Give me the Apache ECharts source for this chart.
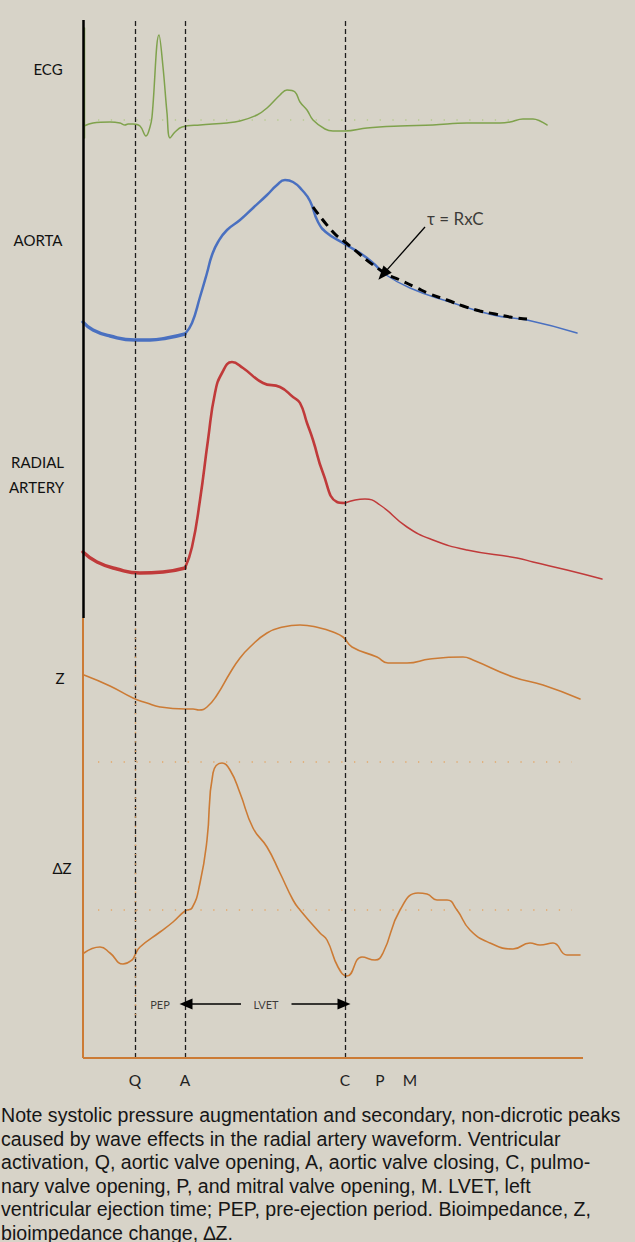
<!DOCTYPE html>
<html>
<head>
<meta charset="utf-8">
<script src="https://cdn.jsdelivr.net/npm/echarts@6/dist/echarts.min.js"></script>
<style>
  html, body { margin: 0; padding: 0; background: #d7d3c8; }
  #chart { position: absolute; left: 0; top: 0; width: 635px; height: 1100px; }
  #note {
    position: absolute; left: 1px; top: 1104px; width: 634px;
    font-family: "Liberation Sans", Arial, sans-serif; font-size: 19.6px;
    line-height: 23.5px; color: #161616; white-space: nowrap;
  }
</style>
</head>
<body>
<div id="chart"></div>
<div id="note">Note systolic pressure augmentation and secondary, non-dicrotic peaks<br>caused by wave effects in the radial artery waveform. Ventricular<br>activation, Q, aortic valve opening, A, aortic valve closing, C, pulmo-<br>nary valve opening, P, and mitral valve opening, M. LVET, left<br>ventricular ejection time; PEP, pre-ejection period. Bioimpedance, Z,<br>bioimpedance change, &#8710;Z.</div>
<script>
// ---- time axis (ms from start of the cycle) ----
const eventTimes  = [104, 204, 524, 594, 654];
const eventLabels = ['Q', 'A', 'C', 'P', 'M'];
const dashedEvents = [104, 204, 524];           // Q, A, C marker lines

// ---- ECG (mV) ----
const ecgCalibration = [[3, 1.314], [3, -0.257]];
const ecgMv = [
  [2, -0.086], [20, -0.043], [54, -0.029], [74, -0.043], [84, -0.071], [90, -0.057],
  [100, -0.057], [114, -0.086], [126, -0.229], [134, -0.1], [138, 0.043], [152, 1.214],
  [160, 0.757], [168, 0.1], [174, -0.257], [184, -0.171], [198, -0.1], [234, -0.071],
  [288, -0.043], [314, -0.014], [348, 0.071], [368, 0.171], [394, 0.357], [408, 0.429],
  [424, 0.4], [434, 0.257], [448, 0.143], [460, 0], [484, -0.129], [500, -0.157],
  [524, -0.157], [568, -0.114], [634, -0.086], [700, -0.071], [768, -0.043], [834, -0.043],
  [854, -0.029], [880, 0.014], [900, 0.014], [914, -0.014], [928, -0.071]
];
const ecgBaseline = [[30, 0], [858, 0]];

// ---- Aortic pressure (mmHg) ----
const aortaMmHg = [
  [0, 84.5], [20, 82.5], [54, 81], [104, 80], [134, 80], [168, 80.5], [204, 81.5],
  [218, 84.25], [234, 90.75], [248, 96.75], [258, 101.25], [270, 104.5], [288, 107.5],
  [314, 110], [340, 113], [368, 116.25], [388, 118.75], [404, 120], [420, 119.5],
  [438, 117.5], [454, 114.75], [470, 109.5], [488, 106.75], [520, 104.25], [568, 100.5],
  [600, 96.75], [654, 93], [734, 89.5], [820, 86.25], [888, 85], [988, 81.75]
];
// exponential run-off fit (tau = R x C)
const aortaDecayFit = [
  [460, 113.25], [500, 107], [524, 104.5], [600, 97], [634, 95], [664, 93.25],
  [694, 91.5], [728, 90], [760, 88.5], [794, 87.25], [824, 86.5], [854, 85.75], [888, 85.25]
];

// ---- Radial artery pressure (mmHg) ----
const radialMmHg = [
  [0, 85.25], [28, 82.75], [68, 81], [114, 80], [160, 80.25], [204, 81.25],
  [218, 86.5], [234, 98.25], [250, 113.25], [264, 125], [278, 130], [298, 132.75],
  [320, 131.25], [360, 127.5], [394, 126.5], [420, 124], [434, 122.5], [448, 117.5],
  [460, 113.25], [480, 105], [508, 97.75], [524, 97.5], [564, 98.5], [594, 97],
  [648, 91.5], [700, 88.25], [768, 85.75], [868, 83.75], [900, 82.75], [968, 80.75], [1038, 78.5]
];

// ---- Bioimpedance Z and its change dZ (arbitrary units) ----
const zImpedance = [
  [2, 16.25], [54, 13.5], [100, 10.5], [128, 9.25], [154, 8.25], [204, 7.75],
  [220, 7.75], [232, 7.5], [248, 8.25], [268, 11.25], [294, 16.75], [314, 20.5],
  [334, 23.25], [368, 26.75], [400, 28.25], [434, 28.75], [474, 28], [500, 27],
  [520, 25.75], [538, 23.25], [588, 20.75], [610, 19.25], [648, 19.25], [694, 20.25],
  [760, 20.75], [780, 20], [860, 15.75], [920, 13.75], [994, 10.25]
];
const dZ = [
  [2, 11.75], [34, 13.25], [54, 11.75], [80, 9], [98, 10], [104, 11.25], [114, 13.25],
  [154, 17], [180, 19.5], [204, 22.25], [218, 23], [234, 29.25], [248, 40], [260, 56.75],
  [278, 59.25], [294, 57.5], [314, 51.75], [340, 43], [368, 38.25], [394, 31.75],
  [420, 25], [434, 22.5], [474, 16.75], [488, 15], [510, 8.25], [528, 6], [558, 10.75],
  [584, 10], [600, 11.75], [634, 22.5], [670, 26.75], [688, 26.5], [708, 25], [728, 25],
  [748, 22.5], [774, 17.5], [814, 14.25], [860, 12.75], [894, 14.25], [914, 13.75],
  [940, 14.25], [968, 11.25], [994, 11.25]
];
const dZGuides = [59.5, 22.5];

// ---- layout ----
const T_MAX = 1060;
const grids = [
  { top: 20,  height: 1038 },  // frame: axes, event lines, interval arrows
  { top: 22,  height: 126 },   // ECG
  { top: 140, height: 240 },   // aorta
  { top: 333, height: 280 },   // radial
  { top: 600, height: 140 },   // Z
  { top: 740, height: 260 }    // dZ
].map(g => Object.assign({ left: 83, right: 22 }, g));
const yRanges = [[0, 100], [-0.4, 1.4], [70, 130], [70, 140], [0, 35], [0, 65]];

const GREEN = '#7fa24c', BLUE = '#4a70c0', RED = '#c03a3a', ORANGE = '#cc7b35';
const seg = (d, a, b) => d.filter(p => p[0] >= a && p[0] <= b);

function trace(gi, data, color, width, extra) {
  return Object.assign({
    type: 'line', xAxisIndex: gi, yAxisIndex: gi, data, symbol: 'none',
    smooth: 0.5, silent: true, animation: false, z: 3,
    lineStyle: { color, width, cap: 'round', join: 'round' }
  }, extra || {});
}
function guide(gi, data, color) {
  return trace(gi, data, color, 1.3, { smooth: false, z: 2,
    lineStyle: { color, width: 1.3, type: [1.3, 11.5] } });
}

const xAxes = grids.map((g, i) => ({
  type: 'value', gridIndex: i, min: 0, max: T_MAX, show: i === 0,
  axisLine: { show: false }, axisTick: { show: false }, splitLine: { show: false },
  axisLabel: i === 0 ? {
    customValues: eventTimes,
    formatter: v => eventLabels[eventTimes.indexOf(v)],
    margin: 14, fontSize: 15.5, color: '#222', fontFamily: 'Lato'
  } : { show: false }
}));
const yAxes = yRanges.map((r, i) => ({
  type: 'value', gridIndex: i, min: r[0], max: r[1], show: false, splitLine: { show: false }
}));

const AXIS_SPLIT = 42.39;   // where the pressure frame hands over to the impedance frame
const LVET_Y = 5.2;

const frameSeries = {
  type: 'line', xAxisIndex: 0, yAxisIndex: 0, data: [[0, 0]], symbol: 'none',
  lineStyle: { opacity: 0 }, silent: true, animation: false, z: 1,
  markLine: {
    silent: true, animation: false, symbol: ['none', 'none'], label: { show: false },
    data: [
      ...dashedEvents.map(t => ({ xAxis: t, lineStyle: { color: '#1d1d1d', width: 1.3, type: [5, 3] } })),
      [{ coord: [104, AXIS_SPLIT - 1], lineStyle: { color: '#e0a263', width: 1.4, type: [1.4, 8] } },
       { coord: [104, 4] }],
      [{ coord: [0, 100], lineStyle: { color: '#000', width: 2.5, type: 'solid' } },
       { coord: [0, AXIS_SPLIT] }],
      [{ coord: [0, AXIS_SPLIT], lineStyle: { color: ORANGE, width: 2, type: 'solid' } },
       { coord: [0, 0] }],
      [{ coord: [0, 0], lineStyle: { color: ORANGE, width: 2, type: 'solid' } },
       { coord: [1000, 0] }]
    ]
  }
};

const arrowSeries = {
  type: 'line', xAxisIndex: 0, yAxisIndex: 0, data: [[0, 0]], symbol: 'none',
  lineStyle: { opacity: 0 }, silent: true, animation: false, z: 4,
  markLine: {
    silent: true, animation: false, label: { show: false },
    symbol: ['none', 'none'], symbolSize: [11, 13],
    lineStyle: { color: '#000', width: 1.5, type: 'solid' },
    data: [
      [{ coord: [206, LVET_Y], symbol: 'triangle' }, { coord: [316, LVET_Y], symbol: 'none' }],
      [{ coord: [417, LVET_Y], symbol: 'none' }, { coord: [522, LVET_Y], symbol: 'triangle' }]
    ]
  }
};

const tauArrow = {
  type: 'line', xAxisIndex: 2, yAxisIndex: 2, data: [[0, 0]], symbol: 'none',
  lineStyle: { opacity: 0 }, silent: true, animation: false, z: 5,
  markLine: {
    silent: true, animation: false, label: { show: false },
    symbol: ['none', 'triangle'], symbolSize: [11, 14],
    lineStyle: { color: '#000', width: 1.3, type: 'solid' },
    data: [[{ coord: [684, 108.25] }, { coord: [600, 96.4] }]]
  }
};

const textMarks = (gi, items, size) => ({
  type: 'scatter', xAxisIndex: gi, yAxisIndex: gi, symbolSize: 0, silent: true,
  animation: false, z: 6, data: items,
  label: { show: true, position: 'inside', formatter: '{b}', color: '#111',
           fontFamily: 'Lato', fontSize: size }
});

const option = {
  backgroundColor: 'transparent',
  animation: false,
  grid: grids,
  xAxis: xAxes,
  yAxis: yAxes,
  series: [
    frameSeries,
    arrowSeries,
    textMarks(0, [{ name: 'PEP', value: [154, LVET_Y] }, { name: 'LVET', value: [366, LVET_Y] }], 11),
    guide(1, ecgBaseline, '#b6cb8e'),
    trace(1, ecgCalibration, GREEN, 1.5, { smooth: false }),
    trace(1, ecgMv, GREEN, 1.5, { smooth: 0.4 }),
    trace(2, seg(aortaMmHg, 0, 204), BLUE, 3.4),
    trace(2, seg(aortaMmHg, 204, 600), BLUE, 2.5),
    trace(2, seg(aortaMmHg, 600, 1100), BLUE, 1.5),
    trace(2, aortaDecayFit, '#000', 3, { z: 4, lineStyle: { color: '#000', width: 3, type: [9, 6] } }),
    tauArrow,
    {
      type: 'scatter', xAxisIndex: 2, yAxisIndex: 2, symbolSize: 0, silent: true, z: 6,
      data: [{ name: 'τ = RxC', value: [688, 110.5] }],
      label: { show: true, position: 'right', distance: 0, formatter: '{b}',
               color: '#111', fontFamily: 'Lato', fontSize: 17 }
    },
    trace(3, seg(radialMmHg, 0, 204), RED, 3.4),
    trace(3, seg(radialMmHg, 204, 524), RED, 2.6),
    trace(3, seg(radialMmHg, 524, 1100), RED, 1.5),
    trace(4, zImpedance, ORANGE, 1.6),
    ...dZGuides.map(v => guide(5, [[30, v], [978, v]], '#e3a86a')),
    trace(5, dZ, ORANGE, 1.6)
  ],
  graphic: [
    ['ECG', 48, 69], ['AORTA', 38, 240], ['RADIAL', 37.5, 462], ['ARTERY', 36.5, 487],
    ['Z', 60, 678], ['ΔZ', 62, 868]
  ].map(([text, x, y]) => ({
    type: 'text', x, y, silent: true,
    style: { text, fill: '#111', font: '15px Lato', align: 'center', verticalAlign: 'middle',
             textAlign: 'center', textVerticalAlign: 'middle' }
  }))
};

const chart = echarts.init(document.getElementById('chart'), null, { renderer: 'svg' });
chart.setOption(option);
</script>
</body>
</html>
